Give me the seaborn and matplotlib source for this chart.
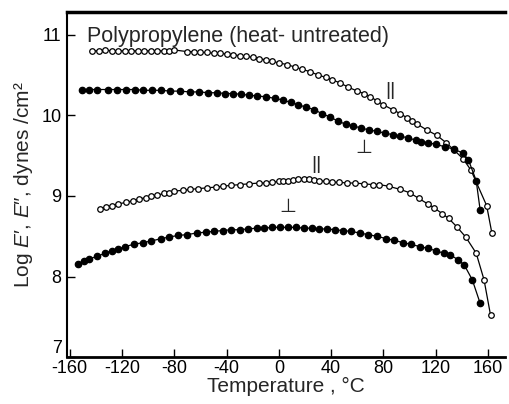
import matplotlib
matplotlib.use("Agg")
import matplotlib.pyplot as plt
import seaborn as sns
import pandas as pd

# ---- data ----
T_Ep_par = [-143, -138, -133, -128, -123, -118, -113, -108, -103, -98, -93, -88, -84, -80,
            -70, -65, -60, -55, -50, -45, -40, -35, -30, -25, -20, -15, -10, -5, 0, 6, 12, 18,
            24, 30, 36, 41, 47, 53, 60, 65, 70, 75, 80, 87, 93, 98, 102, 106, 113, 121, 128,
            134, 141, 147, 159, 163]
E_p_par = [10.80, 10.80, 10.81, 10.80, 10.80, 10.80, 10.80, 10.80, 10.80, 10.80, 10.80, 10.80, 10.80, 10.81,
           10.79, 10.79, 10.78, 10.78, 10.77, 10.77, 10.76, 10.75, 10.74, 10.73, 10.72, 10.70, 10.69, 10.67, 10.65, 10.63, 10.60, 10.57,
           10.54, 10.50, 10.47, 10.44, 10.40, 10.35, 10.30, 10.27, 10.23, 10.18, 10.13, 10.07, 10.02, 9.97, 9.93, 9.89, 9.82, 9.75, 9.66,
           9.57, 9.46, 9.32, 8.88, 8.54]

T_Ep_perp = [-151, -145, -139, -131, -124, -117, -110, -104, -97, -90, -83, -76, -68, -61, -54,
             -47, -41, -35, -29, -23, -17, -10, -3, 3, 9, 15, 21, 27, 33, 39, 45, 51, 57, 63,
             69, 75, 81, 87, 93, 99, 105, 109, 114, 120, 127, 134, 141, 145, 151, 154]
E_p_perp = [10.32, 10.32, 10.32, 10.32, 10.32, 10.32, 10.32, 10.31, 10.31, 10.31, 10.30, 10.30, 10.29, 10.29, 10.28,
            10.28, 10.27, 10.27, 10.26, 10.25, 10.24, 10.23, 10.21, 10.19, 10.16, 10.13, 10.10, 10.07, 10.02, 9.98, 9.93, 9.89, 9.87, 9.84,
            9.82, 9.80, 9.78, 9.76, 9.74, 9.72, 9.69, 9.67, 9.66, 9.64, 9.61, 9.58, 9.53, 9.45, 9.19, 8.83]

T_Epp_par = [-137, -132, -128, -123, -117, -112, -107, -102, -98, -93, -88, -84, -80, -73, -68,
             -62, -55, -48, -43, -37, -30, -23, -15, -10, -5, 0, 3, 7, 11, 15, 19, 23, 27, 31,
             36, 41, 46, 52, 58, 65, 72, 77, 84, 93, 100, 107, 114, 119, 125, 130, 136, 143,
             151, 157, 162]
E_pp_par = [8.84, 8.86, 8.88, 8.90, 8.92, 8.94, 8.96, 8.98, 9.00, 9.01, 9.03, 9.04, 9.06, 9.07, 9.08,
            9.09, 9.10, 9.11, 9.12, 9.13, 9.14, 9.15, 9.16, 9.16, 9.17, 9.18, 9.18, 9.19, 9.20, 9.21, 9.21, 9.21, 9.20, 9.19,
            9.18, 9.17, 9.17, 9.16, 9.16, 9.15, 9.14, 9.14, 9.12, 9.08, 9.04, 8.97, 8.90, 8.85, 8.78, 8.72, 8.62, 8.49,
            8.29, 7.96, 7.52]

T_Epp_perp = [-154, -149, -145, -139, -133, -128, -123, -118, -111, -104, -98, -90, -84, -77, -70,
              -63, -56, -50, -43, -37, -30, -24, -17, -11, -5, 1, 7, 13, 19, 25, 31, 37, 43, 49,
              55, 62, 68, 75, 82, 88, 95, 101, 108, 114, 120, 126, 131, 137, 142, 148, 154]
E_pp_perp = [8.15, 8.19, 8.22, 8.25, 8.29, 8.32, 8.34, 8.37, 8.40, 8.42, 8.44, 8.47, 8.49, 8.51, 8.52,
             8.54, 8.55, 8.56, 8.57, 8.58, 8.58, 8.59, 8.60, 8.60, 8.61, 8.61, 8.61, 8.61, 8.60, 8.60, 8.59, 8.59, 8.58, 8.57,
             8.56, 8.54, 8.52, 8.50, 8.47, 8.45, 8.42, 8.40, 8.37, 8.35, 8.32, 8.29, 8.27, 8.21, 8.14, 7.96, 7.67]

x_ticks = [-160, -120, -80, -40, 0, 40, 80, 120, 160]
y_ticks = [7, 8, 9, 10, 11]

# ---- style ----
sns.set_style("ticks")
plt.rcParams['font.family'] = ['Liberation Sans', 'DejaVu Sans']
plt.rcParams['mathtext.fontset'] = 'custom'
plt.rcParams['mathtext.rm'] = 'Liberation Sans'
plt.rcParams['mathtext.it'] = 'Liberation Sans:italic'

fig = plt.figure(figsize=(5.09, 4.04), dpi=100)
ax = fig.add_axes([0.132, 0.116, 0.860, 0.854])

series = [
    (T_Ep_par, E_p_par, 'white', 4.0),
    (T_Ep_perp, E_p_perp, 'black', 4.6),
    (T_Epp_par, E_pp_par, 'white', 4.0),
    (T_Epp_perp, E_pp_perp, 'black', 4.6),
]
for xs, ys, fc, ms in series:
    df = pd.DataFrame({'T': xs, 'E': ys})
    sns.lineplot(data=df, x='T', y='E', ax=ax, sort=False, color='black',
                 linewidth=0.9, marker='o', markersize=ms, markerfacecolor=fc,
                 markeredgecolor='black', markeredgewidth=0.9)

ax.set_xlim(-162, 173)
ax.set_ylim(7, 11.28)
ax.set_xticks(x_ticks)
ax.set_xticklabels([str(v) for v in x_ticks])
ax.set_yticks(y_ticks)
ax.tick_params(direction='in', length=6, width=1, labelsize=13, colors='black')
ax.tick_params(axis='x', pad=2)
ax.tick_params(axis='y', pad=4)
# lift the "7" label a little, as in the reference
ax.get_yticklabels()[0].set_verticalalignment('bottom')

for s in ['left', 'bottom', 'top']:
    ax.spines[s].set_color('black')
ax.spines['left'].set_linewidth(1.5)
ax.spines['bottom'].set_linewidth(2)
ax.spines['top'].set_linewidth(2.5)
ax.spines['right'].set_visible(False)

ax.set_xlabel("Temperature , °C", fontsize=15, labelpad=0)
ax.set_ylabel("Log $E$′, $E$″, dynes /cm²", fontsize=15, labelpad=5)

ax.text(-147, 10.98, "Polypropylene (heat- untreated)", fontsize=15.5, ha='left', va='center')

sym = dict(fontsize=14, ha='center', va='center', family=['DejaVu Sans'])
ax.text(85, 10.31, "||", fontsize=14, ha='center', va='center')
ax.text(65, 9.60, "⊥", **sym)
ax.text(29, 9.39, "||", fontsize=14, ha='center', va='center')
ax.text(7, 8.87, "⊥", **sym)

fig.savefig("out.png", dpi=100)
